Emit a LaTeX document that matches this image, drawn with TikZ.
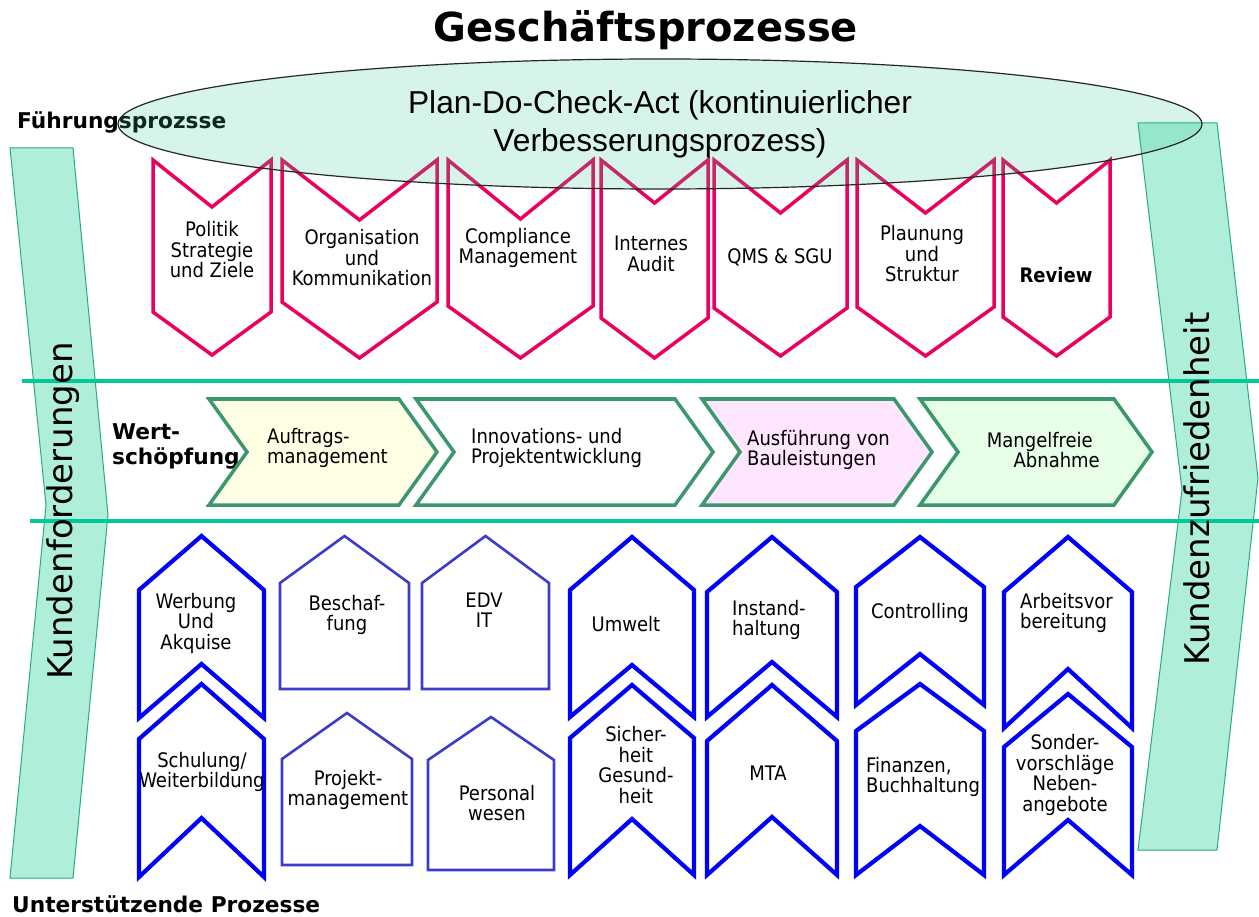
\documentclass[tikz,border=0pt]{standalone}
\usepackage{fontspec}
\setmainfont{DejaVu Sans}
\newfontfamily\boxfont{DejaVu Sans Condensed}
\newfontfamily\arialfont{Liberation Sans}
\definecolor{pinkc}{RGB}{235,0,95}
\definecolor{bluec}{RGB}{0,0,250}
\definecolor{housec}{RGB}{60,60,200}
\definecolor{greenc}{RGB}{60,150,110}
\definecolor{tealline}{RGB}{0,200,150}
\definecolor{arrowfill}{RGB}{176,238,220}
\definecolor{arrowdraw}{RGB}{40,170,130}
\definecolor{ellfill}{RGB}{50,200,150}
\definecolor{yellowf}{RGB}{255,255,230}
\definecolor{pinkf}{RGB}{255,230,255}
\definecolor{greenf}{RGB}{230,255,230}
\tikzset{
  pinkshape/.style={draw=pinkc, line width=3.5pt, fill=white},
  blueshape/.style={draw=bluec, line width=4.2pt, fill=white},
  houseshape/.style={draw=housec, line width=2.6pt, fill=white},
  greenshape/.style={draw=greenc, line width=3.5pt},
  sepline/.style={draw=tealline, line width=4pt},
  bigarrow/.style={fill=arrowfill, draw=arrowdraw, line width=1pt},
  boxtxt/.style={font=\boxfont\fontsize{20}{20.5}\selectfont, align=center, inner sep=0pt},
  boldlabel/.style={font=\bfseries\fontsize{21.7}{25}\selectfont, align=left, inner sep=0pt},
  sidetxt/.style={font=\fontsize{34}{40}\selectfont, rotate=90, inner sep=0pt}
}
\newcommand\dchev[6]{\draw[pinkshape] (#1,#3) -- ({(#1+#2)/2},#4) -- (#2,#3) -- (#2,#5) -- ({(#1+#2)/2},#6) -- (#1,#5) -- cycle;}
\newcommand\uchev[6]{\draw[blueshape] ({(#1+#2)/2},#3) -- (#2,#4) -- (#2,#5) -- ({(#1+#2)/2},#6) -- (#1,#5) -- (#1,#4) -- cycle;}
\newcommand\housesh[5]{\draw[houseshape] ({(#1+#2)/2},#3) -- (#2,#4) -- (#2,#5) -- (#1,#5) -- (#1,#4) -- cycle;}
\newcommand\rchev[5]{\draw[greenshape,fill=#5] (#1,#3) -- (#2,#3) -- ({#2+38},{(#3+#4)/2}) -- (#2,#4) -- (#1,#4) -- ({#1+38},{(#3+#4)/2}) -- cycle;}
\begin{document}
\begin{tikzpicture}[x=1pt,y=-1pt]
\useasboundingbox (0,0) rectangle (1259,917);
\fill[white] (0,0) rectangle (1259,917);

% big side arrows
\draw[bigarrow] (10,148) -- (73,148) -- (108,515) -- (73,878) -- (10,878) -- (46,505) -- cycle;
\draw[bigarrow] (1138,123) -- (1217,123) -- (1258,478) -- (1217,850) -- (1138,850) -- (1182,490) -- cycle;

% separator lines
\coordinate (l1a) at (22,381); \coordinate (l1b) at (1259,381);
\coordinate (l2a) at (30,521); \coordinate (l2b) at (1259,521);
\draw[sepline] (l1a) -- (l1b);
\draw[sepline] (l2a) -- (l2b);

\node[sidetxt] (kf) at (63,511) {Kundenforderungen};
\node[sidetxt] (kz) at (1197,489) {Kundenzufriedenheit};

% title
\node[font=\bfseries\fontsize{40}{48}\selectfont, inner sep=0pt] (title) at (646,30) {Geschäftsprozesse};
\node[boldlabel, anchor=west] (fp) at (17,122) {Führungsprozsse};
\node[boldlabel, anchor=west] (ws) at (112,446) {Wert-\\schöpfung};
\node[boldlabel, anchor=west] (up) at (12,904) {Unterstützende Prozesse};

% pink chevrons
\dchev{153}{271}{160}{207}{312}{355}
\dchev{282}{437}{160}{220}{302}{358}
\dchev{448}{593}{160}{219}{306}{358}
\dchev{601}{708}{160}{203}{318}{358}
\dchev{714}{847}{160}{213}{308}{356}
\dchev{857}{994}{160}{213}{307}{356}
\dchev{1003}{1110}{160}{203}{317}{356}
\node[boxtxt] (p1) at (212,250) {Politik\\Strategie\\und Ziele};
\node[boxtxt] (p2) at (362,258) {Organisation\\und\\Kommunikation};
\node[boxtxt] (p3) at (518,248) {Compliance\\Management};
\node[boxtxt] (p4) at (651,254) {Internes\\Audit};
\node[boxtxt] (p5) at (780,257) {QMS \& SGU};
\node[boxtxt] (p6) at (922,254) {Plaunung\\und\\Struktur};
\node[boxtxt, font=\boxfont\bfseries\fontsize{20}{20.5}\selectfont] (p7) at (1056,275) {Review};

% ellipse
\draw[fill=ellfill, fill opacity=0.2, draw=black!85, line width=1.2pt] (660,124) ellipse [x radius=542pt, y radius=65pt];
\node[font=\arialfont\fontsize{31.7}{38}\selectfont, align=center, inner sep=0pt] (pdca) at (660,124) {Plan-Do-Check-Act (kontinuierlicher\\Verbesserungsprozess)};

% value chain
\rchev{209}{399}{399}{505}{yellowf}
\rchev{416}{675}{399}{505}{white}
\rchev{702}{894}{399}{505}{pinkf}
\rchev{920}{1114}{399}{505}{greenf}
\node[boxtxt, align=left, anchor=west] (g1) at (267,448) {Auftrags-\\management};
\node[boxtxt, align=left, anchor=west] (g2) at (471,448) {Innovations- und\\Projektentwicklung};
\node[boxtxt, align=left, anchor=west] (g3) at (747,450) {Ausführung von\\Bauleistungen};
\node[boxtxt, align=right, anchor=east] (g4) at (1100,450) {Mangelfreie\hspace*{7pt}\\Abnahme};

% support processes
\uchev{139}{264}{536}{590}{718}{664}
\uchev{139}{264}{684}{739}{877}{818}
\housesh{280}{409}{536}{583}{689}
\housesh{422}{549}{536}{583}{689}
\housesh{282}{412}{713}{759}{865}
\housesh{428}{554}{717}{760}{870}
\uchev{570}{694}{537}{590}{717}{665}
\uchev{570}{694}{685}{738}{875}{819}
\uchev{707}{837}{537}{592}{717}{662}
\uchev{707}{837}{685}{741}{875}{817}
\uchev{856}{984}{537}{587}{705}{654}
\uchev{856}{984}{684}{731}{875}{826}
\uchev{1004}{1132}{537}{592}{728}{669}
\uchev{1004}{1132}{694}{747}{875}{820}

\node[boxtxt] (s1) at (196,623) {Werbung\\Und\\Akquise};
\node[boxtxt] (s2) at (202,772) {Schulung/\\Weiterbildung};
\node[boxtxt] (s3) at (347,615) {Beschaf-\\fung};
\node[boxtxt] (s4) at (484,610) {EDV\\IT};
\node[boxtxt] (s5) at (348,790) {Projekt-\\management};
\node[boxtxt] (s6) at (497,803) {Personal\\wesen};
\node[boxtxt] (s7) at (626,624) {Umwelt};
\node[boxtxt] (s8) at (636,765) {Sicher-\\heit\\Gesund-\\heit};
\node[boxtxt, align=left, anchor=west] (s9) at (732,620) {Instand-\\haltung};
\node[boxtxt] (s10) at (768,773) {MTA};
\node[boxtxt] (s11) at (920,613) {Controlling};
\node[boxtxt, align=left, anchor=west] (s12) at (866,777) {Finanzen,\\Buchhaltung};
\node[boxtxt, align=left, anchor=west] (s13) at (1020,613) {Arbeitsvor\\bereitung};
\node[boxtxt] (s14) at (1065,775) {Sonder-\\vorschläge\\Neben-\\angebote};
\end{tikzpicture}
\end{document}
